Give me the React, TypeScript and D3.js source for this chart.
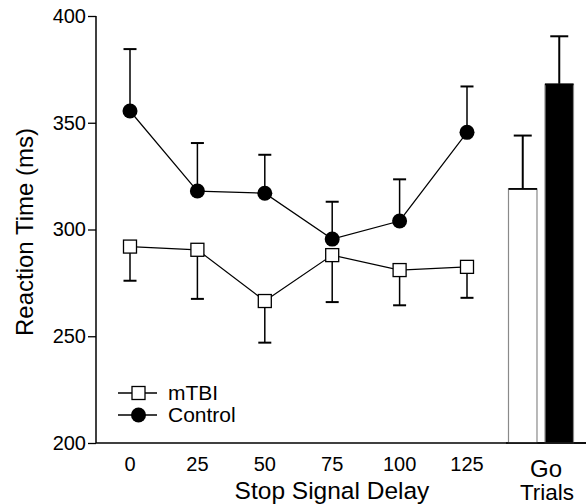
import React, { useEffect, useRef } from "react";
import * as d3 from "d3";

// stop signal delays (ms)
const delays = [0, 25, 50, 75, 100, 125];
// mean reaction time + SEM
const mtbiMean = [292, 290.5, 266.5, 288, 281, 282.5];
const mtbiErr = [16, 23, 19.5, 22, 16.5, 14.5];
const controlMean = [355.5, 318, 317, 295.5, 304, 345.5];
const controlErr = [29, 22.5, 18, 17.5, 19.5, 21.5];

// go trials bars
const goGroups = ["mTBI", "Control"];
const goMean = [319, 368];
const goErr = [25, 22.5];

const yTicks = [200, 250, 300, 350, 400];

const FONT = "'Liberation Sans', Arial, Helvetica, sans-serif";

const App = () => {
  const ref = useRef<SVGSVGElement | null>(null);

  useEffect(() => {
    if (!ref.current) return;
    const svg = d3.select(ref.current);
    svg.selectAll("*").remove();

    const width = 586;
    const height = 504;

    const x = d3.scaleLinear().domain([0, 125]).range([130, 467]);
    const y = d3.scaleLinear().domain([200, 400]).range([443, 16]);
    const xBar = d3
      .scaleBand()
      .domain(goGroups)
      .range([508.5, 573.5])
      .paddingInner(0.22);

    svg.attr("width", width).attr("height", height);

    // Y axis
    const yAxis = svg
      .append("g")
      .attr("transform", "translate(96,0)")
      .call(
        d3
          .axisLeft(y)
          .tickValues(yTicks)
          .tickSize(8)
          .tickPadding(2)
          .tickFormat(d3.format("d"))
      );
    yAxis.select(".domain").attr("d", `M0,${y(400)}V${y(200)}`).attr("stroke-width", 1.5);
    yAxis.selectAll(".tick line").attr("stroke-width", 1.3);
    yAxis
      .selectAll(".tick text")
      .attr("font-family", FONT)
      .attr("font-size", 20)
      .attr("fill", "#000");

    // X axis line spans all the way to the right
    svg
      .append("line")
      .attr("x1", 96)
      .attr("x2", 586)
      .attr("y1", y(200))
      .attr("y2", y(200))
      .attr("stroke", "#000")
      .attr("stroke-width", 1.5);

    // x tick labels (no tick marks)
    svg
      .append("g")
      .selectAll("text")
      .data(delays)
      .enter()
      .append("text")
      .attr("x", (d) => x(d))
      .attr("y", 471)
      .attr("text-anchor", "middle")
      .attr("font-family", FONT)
      .attr("font-size", 20)
      .text((d) => d);

    // axis titles
    svg
      .append("text")
      .attr("x", 332)
      .attr("y", 499)
      .attr("text-anchor", "middle")
      .attr("font-family", FONT)
      .attr("font-size", 24.5)
      .text("Stop Signal Delay");

    svg
      .append("text")
      .attr("transform", `translate(33,232) rotate(-90)`)
      .attr("text-anchor", "middle")
      .attr("font-family", FONT)
      .attr("font-size", 24)
      .text("Reaction Time (ms)");

    const goCenter = 546;
    svg
      .append("text")
      .attr("x", goCenter)
      .attr("y", 477)
      .attr("text-anchor", "middle")
      .attr("font-family", FONT)
      .attr("font-size", 24)
      .text("Go");
    svg
      .append("text")
      .attr("x", goCenter + 1)
      .attr("y", 500)
      .attr("text-anchor", "middle")
      .attr("font-family", FONT)
      .attr("font-size", 22.5)
      .text("Trials");

    // Go trial bars
    const bw = xBar.bandwidth();
    goGroups.forEach((g, i) => {
      const bx = xBar(g) as number;
      const cx = bx + bw / 2;
      svg
        .append("line")
        .attr("x1", cx)
        .attr("x2", cx)
        .attr("y1", y(goMean[i]))
        .attr("y2", y(goMean[i] + goErr[i]))
        .attr("stroke", "#000")
        .attr("stroke-width", 2);
      svg
        .append("line")
        .attr("x1", cx - 9)
        .attr("x2", cx + 9)
        .attr("y1", y(goMean[i] + goErr[i]))
        .attr("y2", y(goMean[i] + goErr[i]))
        .attr("stroke", "#000")
        .attr("stroke-width", 2);
      svg
        .append("rect")
        .attr("x", bx)
        .attr("y", y(goMean[i]))
        .attr("width", bw)
        .attr("height", y(200) - y(goMean[i]))
        .attr("fill", i === 0 ? "#fff" : "#000")
        .attr("stroke", "#8a8a8a")
        .attr("stroke-width", 1.2);
      // bar top edge
      svg
        .append("line")
        .attr("x1", bx)
        .attr("x2", bx + bw)
        .attr("y1", y(goMean[i]))
        .attr("y2", y(goMean[i]))
        .attr("stroke", "#000")
        .attr("stroke-width", 1.8);
    });
    svg
      .append("line")
      .attr("x1", 506)
      .attr("x2", 586)
      .attr("y1", y(200))
      .attr("y2", y(200))
      .attr("stroke", "#000")
      .attr("stroke-width", 1.5);

    // error bars for the lines (control up, mTBI down)
    const errG = svg.append("g").attr("stroke", "#000");
    const drawErr = (mean: number[], err: number[], dir: number) => {
      delays.forEach((d, i) => {
        const end = mean[i] + dir * err[i];
        errG
          .append("line")
          .attr("x1", x(d))
          .attr("x2", x(d))
          .attr("y1", y(mean[i]))
          .attr("y2", y(end))
          .attr("stroke-width", 1.5);
        errG
          .append("line")
          .attr("x1", x(d) - 6.5)
          .attr("x2", x(d) + 6.5)
          .attr("y1", y(end))
          .attr("y2", y(end))
          .attr("stroke-width", 2);
      });
    };
    drawErr(controlMean, controlErr, 1);
    drawErr(mtbiMean, mtbiErr, -1);

    const line = d3
      .line<number>()
      .x((d, i) => x(delays[i]))
      .y((d) => y(d));

    svg
      .append("path")
      .datum(mtbiMean)
      .attr("fill", "none")
      .attr("stroke", "#000")
      .attr("stroke-width", 1.2)
      .attr("d", line);
    svg
      .append("path")
      .datum(controlMean)
      .attr("fill", "none")
      .attr("stroke", "#000")
      .attr("stroke-width", 1.2)
      .attr("d", line);

    // markers
    svg
      .selectAll(".ctl")
      .data(controlMean)
      .enter()
      .append("circle")
      .attr("class", "ctl")
      .attr("cx", (d, i) => x(delays[i]))
      .attr("cy", (d) => y(d))
      .attr("r", 7.5)
      .attr("fill", "#000");
    svg
      .selectAll(".tbi")
      .data(mtbiMean)
      .enter()
      .append("rect")
      .attr("class", "tbi")
      .attr("x", (d, i) => x(delays[i]) - 6.5)
      .attr("y", (d) => y(d) - 6.5)
      .attr("width", 13)
      .attr("height", 13)
      .attr("fill", "#fff")
      .attr("stroke", "#000")
      .attr("stroke-width", 1.3);

    // legend
    const lg = svg.append("g").attr("transform", "translate(118,0)");
    const rows = [
      { label: "mTBI", yy: 393, kind: "square" },
      { label: "Control", yy: 415, kind: "circle" },
    ];
    rows.forEach((r) => {
      lg.append("line")
        .attr("x1", 0)
        .attr("x2", 39)
        .attr("y1", r.yy)
        .attr("y2", r.yy)
        .attr("stroke", "#000")
        .attr("stroke-width", 1.3);
      if (r.kind === "square") {
        lg.append("rect")
          .attr("x", 20.5 - 6.5)
          .attr("y", r.yy - 6.5)
          .attr("width", 13)
          .attr("height", 13)
          .attr("fill", "#fff")
          .attr("stroke", "#000")
          .attr("stroke-width", 1.3);
      } else {
        lg.append("circle")
          .attr("cx", 20.5)
          .attr("cy", r.yy)
          .attr("r", 7.5)
          .attr("fill", "#000");
      }
      lg.append("text")
        .attr("x", 50)
        .attr("y", r.yy + 7)
        .attr("font-family", FONT)
        .attr("font-size", 21)
        .text(r.label);
    });
  }, []);

  return (
    <svg
      ref={ref}
      style={{ position: "absolute", left: 0, top: 0, background: "#fff" }}
    />
  );
};

export default App;
